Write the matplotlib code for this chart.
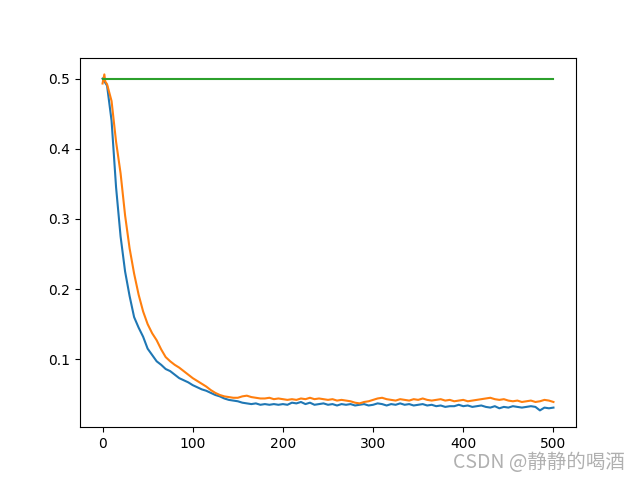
import matplotlib
matplotlib.use("Agg")
import matplotlib.pyplot as plt
import numpy as np

x_step = list(range(0, 505, 5))

blue = [0.500, 0.490, 0.440, 0.345, 0.275, 0.225, 0.190, 0.160, 0.145, 0.132,
        0.115, 0.106, 0.097, 0.092, 0.086, 0.083, 0.078, 0.073, 0.070, 0.067,
        0.063, 0.060, 0.057, 0.055, 0.052, 0.049, 0.047, 0.044, 0.042, 0.041,
        0.040, 0.038, 0.037, 0.036, 0.037, 0.035, 0.036, 0.035, 0.036, 0.035,
        0.036, 0.035, 0.038, 0.037, 0.039, 0.036, 0.038, 0.035, 0.036, 0.037,
        0.035, 0.036, 0.034, 0.036, 0.035, 0.036, 0.034, 0.035, 0.036, 0.034,
        0.035, 0.037, 0.036, 0.034, 0.036, 0.035, 0.037, 0.035, 0.036, 0.034,
        0.035, 0.036, 0.034, 0.035, 0.033, 0.034, 0.032, 0.033, 0.033, 0.035,
        0.033, 0.034, 0.032, 0.033, 0.034, 0.032, 0.031, 0.033, 0.030, 0.032,
        0.031, 0.033, 0.032, 0.031, 0.032, 0.033, 0.032, 0.027, 0.031, 0.030,
        0.031]

orange_x = [0, 2, 3] + list(range(5, 505, 5))
orange = [0.493, 0.506, 0.496,
          0.492, 0.468, 0.410, 0.365, 0.305, 0.258, 0.222, 0.192, 0.168,
          0.150, 0.137, 0.127, 0.114, 0.103, 0.097, 0.092, 0.088, 0.083, 0.078,
          0.073, 0.069, 0.065, 0.061, 0.056, 0.052, 0.049, 0.047, 0.046, 0.045,
          0.045, 0.047, 0.048, 0.046, 0.045, 0.044, 0.044, 0.045, 0.043, 0.044,
          0.043, 0.042, 0.043, 0.042, 0.044, 0.043, 0.045, 0.043, 0.044, 0.043,
          0.042, 0.043, 0.041, 0.042, 0.041, 0.040, 0.038, 0.037, 0.039, 0.040,
          0.042, 0.044, 0.045, 0.043, 0.042, 0.041, 0.043, 0.042, 0.041, 0.043,
          0.042, 0.044, 0.042, 0.041, 0.042, 0.043, 0.041, 0.042, 0.040, 0.041,
          0.042, 0.040, 0.041, 0.042, 0.043, 0.044, 0.045, 0.043, 0.042, 0.043,
          0.041, 0.040, 0.041, 0.039, 0.040, 0.041, 0.039, 0.040, 0.042, 0.041,
          0.039]

green = [0.5] * len(x_step)

fig, ax = plt.subplots(figsize=(6.4, 4.8), dpi=100)
ax.plot(x_step, blue, color='#1f77b4')
ax.plot(orange_x, orange, color='#ff7f0e')
ax.plot(x_step, green, color='#2ca02c')

fig.text(0.977, 0.015, "CSDN @静静的喝酒", ha='right', va='bottom',
         fontsize=14, color='#b0b0b0',
         family=['Noto Sans CJK SC', 'DejaVu Sans'])

fig.savefig("out.png", dpi=100)
